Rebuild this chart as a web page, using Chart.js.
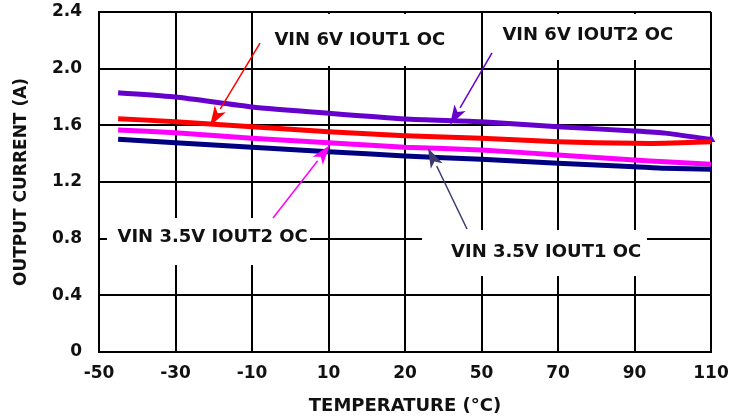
<!DOCTYPE html>
<html><head><meta charset="utf-8">
<script src="https://cdn.jsdelivr.net/npm/chart.js@4/dist/chart.umd.min.js"></script>
<style>html,body{margin:0;padding:0;background:#fff;}</style>
</head><body>
<canvas id="c" width="735" height="417"></canvas>
<script>
// Positions along the temperature axis (axis units; tick "20" sits at the 30 slot)
const xPositions = [-45, -30, -10, 10, 30, 50, 70, 90, 98, 110];
const xTickLabels = ["-50", "-30", "-10", "10", "20", "50", "70", "90", "110"];
const yTickLabels = ["0", "0.4", "0.8", "1.2", "1.6", "2.0", "2.4"];

const vin6Iout2  = [1.83, 1.80, 1.73, 1.685, 1.645, 1.625, 1.59, 1.56, 1.545, 1.50];
const vin6Iout1  = [1.647, 1.626, 1.59, 1.555, 1.527, 1.508, 1.484, 1.473, 1.473, 1.484];
const vin35Iout2 = [1.567, 1.548, 1.508, 1.477, 1.445, 1.426, 1.391, 1.355, 1.343, 1.325];
const vin35Iout1 = [1.501, 1.477, 1.445, 1.414, 1.384, 1.36, 1.332, 1.308, 1.297, 1.29];

const seriesNames = ["VIN 6V IOUT2 OC", "VIN 6V IOUT1 OC", "VIN 3.5V IOUT2 OC", "VIN 3.5V IOUT1 OC"];

const FONT = "'DejaVu Sans', sans-serif";

function pts(arr) { return arr.map((v, i) => ({ x: xPositions[i], y: v })); }

// Callouts in data coordinates
const callouts = [
  { text: seriesNames[1], box: [-8.95, 2.386, 49.08, 2.019], tx: 18.2, ty: 2.202,
    from: [-7.91, 2.181], to: [-20.98, 1.595], color: '#ff0000' },
  { text: seriesNames[0], box: [50.4, 2.386, 109.2, 2.061], tx: 77.8, ty: 2.236,
    from: [52.75, 2.111], to: [41.76, 1.602], color: '#6600cc' },
  { text: seriesNames[2], box: [-47.9, 0.946, 5.16, 0.614], tx: -20.3, ty: 0.808,
    from: [-4.51, 0.946], to: [10.39, 1.461], color: '#ff00ff' },
  { text: seriesNames[3], box: [34.44, 0.861, 93.27, 0.536], tx: 66.9, ty: 0.706,
    from: [46.21, 0.868], to: [36.01, 1.44], color: '#3a3a70' }
];

const calloutPlugin = {
  id: 'callouts',
  afterDatasetsDraw(chart) {
    const ctx = chart.ctx, xs = chart.scales.x, ys = chart.scales.y;
    ctx.save();
    callouts.forEach(c => {
      const x1 = xs.getPixelForValue(c.box[0]), y1 = ys.getPixelForValue(c.box[1]);
      const x2 = xs.getPixelForValue(c.box[2]), y2 = ys.getPixelForValue(c.box[3]);
      ctx.fillStyle = '#fff';
      ctx.fillRect(x1, y1, x2 - x1, y2 - y1);
    });
    callouts.forEach(c => {
      ctx.fillStyle = '#111';
      ctx.font = "bold 18px " + FONT;
      ctx.textAlign = 'center';
      ctx.textBaseline = 'middle';
      ctx.fillText(c.text, xs.getPixelForValue(c.tx), ys.getPixelForValue(c.ty));
      const fx = xs.getPixelForValue(c.from[0]), fy = ys.getPixelForValue(c.from[1]);
      const tx = xs.getPixelForValue(c.to[0]), ty = ys.getPixelForValue(c.to[1]);
      const ang = Math.atan2(ty - fy, tx - fx);
      const L = 20, W = 6.5;
      const bx = tx - L * Math.cos(ang), by = ty - L * Math.sin(ang);
      ctx.strokeStyle = c.color;
      ctx.lineWidth = 1.5;
      ctx.beginPath(); ctx.moveTo(fx, fy); ctx.lineTo(bx, by); ctx.stroke();
      ctx.fillStyle = c.color;
      ctx.beginPath();
      ctx.moveTo(tx, ty);
      ctx.lineTo(bx + W * Math.sin(ang), by - W * Math.cos(ang));
      ctx.lineTo(tx - 0.75 * L * Math.cos(ang), ty - 0.75 * L * Math.sin(ang));
      ctx.lineTo(bx - W * Math.sin(ang), by + W * Math.cos(ang));
      ctx.closePath(); ctx.fill();
    });
    ctx.restore();
  }
};

const lastOnly = (arr, r) => arr.map((v, i) => i === arr.length - 1 ? r : 0);

new Chart(document.getElementById('c'), {
  type: 'line',
  data: {
    datasets: [
      { label: seriesNames[3], data: pts(vin35Iout1), borderColor: '#000080', borderWidth: 5, pointRadius: 0, tension: 0.2 },
      { label: seriesNames[2], data: pts(vin35Iout2), borderColor: '#ff00ff', borderWidth: 5, pointRadius: 0, tension: 0.2 },
      { label: seriesNames[1], data: pts(vin6Iout1), borderColor: '#ff0000', borderWidth: 5, pointRadius: 0, tension: 0.2 },
      { label: seriesNames[0], data: pts(vin6Iout2), borderColor: '#6600cc', borderWidth: 5, tension: 0.2,
        pointStyle: 'triangle', pointRadius: lastOnly(vin6Iout2, 5), backgroundColor: '#6600cc', pointBorderWidth: 0, clip: 8 }
    ]
  },
  options: {
    responsive: false,
    animation: false,
    devicePixelRatio: 1,
    layout: { padding: { left: 0, right: 24, top: 12, bottom: 0 } },
    plugins: { legend: { display: false }, tooltip: { enabled: false } },
    scales: {
      x: {
        type: 'linear', min: -50, max: 110,
        afterFit(s) { s.height = 65; s.paddingLeft = 0; s.paddingRight = 0; },
        grid: { color: '#000', lineWidth: 2, drawTicks: false },
        border: { color: '#000', width: 2 },
        ticks: {
          stepSize: 20, autoSkip: false, maxRotation: 0, padding: 11,
          color: '#111', font: { family: FONT, size: 17, weight: 'bold' },
          callback: (v, i) => xTickLabels[i]
        },
        title: { display: true, text: 'TEMPERATURE (°C)', color: '#111',
          font: { family: FONT, size: 18, weight: 'bold' }, padding: { top: 0, bottom: 0 } }
      },
      y: {
        min: 0, max: 2.4,
        afterFit(s) { s.width = 99; s.paddingTop = 0; s.paddingBottom = 0; },
        grid: { color: '#000', lineWidth: 2, drawTicks: false },
        border: { color: '#000', width: 2 },
        ticks: {
          stepSize: 0.4, padding: 17,
          color: '#111', font: { family: FONT, size: 17, weight: 'bold' },
          callback: (v, i) => yTickLabels[i]
        },
        title: { display: true, text: 'OUTPUT CURRENT (A)', color: '#111',
          font: { family: FONT, size: 17, weight: 'bold' }, padding: { top: 11, bottom: 0 } }
      }
    }
  },
  plugins: [calloutPlugin]
});
</script>
</body></html>
